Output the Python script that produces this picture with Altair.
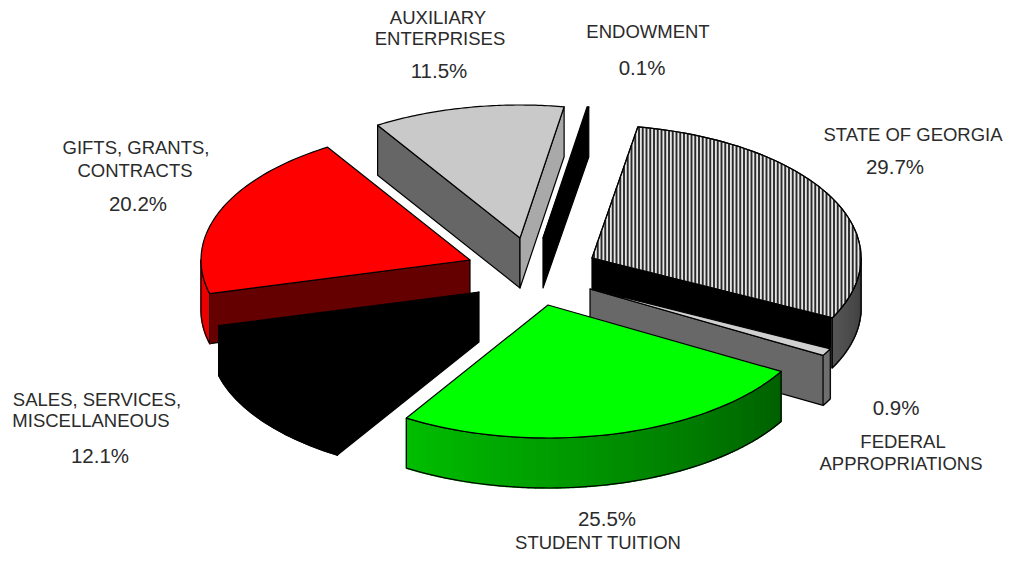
import math
import altair as alt

# ---- chart values ----
names = ["STATE OF GEORGIA", "FEDERAL APPROPRIATIONS", "STUDENT TUITION",
         "SALES, SERVICES, MISCELLANEOUS", "GIFTS, GRANTS, CONTRACTS",
         "AUXILIARY ENTERPRISES", "ENDOWMENT"]
shares = [29.7, 0.9, 25.5, 12.1, 20.2, 11.5, 0.1]

# ---- look: ellipse geometry, explosion, colours ----
START = 80.2
RX, RY, DEPTH = 269, 133, 50
MARGIN = 8
apex = {
    "STATE OF GEORGIA": (592, 258), "FEDERAL APPROPRIATIONS": (590, 289),
    "STUDENT TUITION": (548, 305), "SALES, SERVICES, MISCELLANEOUS": (479, 292),
    "GIFTS, GRANTS, CONTRACTS": (470, 260), "AUXILIARY ENTERPRISES": (520, 238),
    "ENDOWMENT": (543, 238),
}
top_fill = {
    "STATE OF GEORGIA": "#e6e6e6", "FEDERAL APPROPRIATIONS": "#d0d0d0",
    "STUDENT TUITION": "#00ff00", "SALES, SERVICES, MISCELLANEOUS": "#000000",
    "GIFTS, GRANTS, CONTRACTS": "#ff0000", "AUXILIARY ENTERPRISES": "#c9c9c9",
    "ENDOWMENT": "#000000",
}
wall_from = {
    "STATE OF GEORGIA": (60, 60, 60), "FEDERAL APPROPRIATIONS": (110, 110, 110),
    "STUDENT TUITION": (0, 95, 0), "SALES, SERVICES, MISCELLANEOUS": (0, 0, 0),
    "GIFTS, GRANTS, CONTRACTS": (235, 0, 0), "AUXILIARY ENTERPRISES": (150, 150, 150),
    "ENDOWMENT": (0, 0, 0),
}
wall_to = {
    "STATE OF GEORGIA": (85, 85, 85), "FEDERAL APPROPRIATIONS": (110, 110, 110),
    "STUDENT TUITION": (0, 190, 0), "SALES, SERVICES, MISCELLANEOUS": (0, 0, 0),
    "GIFTS, GRANTS, CONTRACTS": (235, 0, 0), "AUXILIARY ENTERPRISES": (150, 150, 150),
    "ENDOWMENT": (0, 0, 0),
}
# faces on the two cut edges
end_face = {
    "STATE OF GEORGIA": "#000000", "FEDERAL APPROPRIATIONS": "#686868",
    "AUXILIARY ENTERPRISES": "#a9a9a9", "ENDOWMENT": "#000000",
}
start_face = {
    "GIFTS, GRANTS, CONTRACTS": "#650000", "SALES, SERVICES, MISCELLANEOUS": "#000000",
    "AUXILIARY ENTERPRISES": "#666666",
}
draw_order = ["AUXILIARY ENTERPRISES", "ENDOWMENT", "GIFTS, GRANTS, CONTRACTS",
              "STATE OF GEORGIA", "SALES, SERVICES, MISCELLANEOUS",
              "FEDERAL APPROPRIATIONS", "STUDENT TUITION"]

label_lines = ["AUXILIARY", "ENTERPRISES", "ENDOWMENT", "STATE OF GEORGIA", "GIFTS, GRANTS,",
               "CONTRACTS", "SALES, SERVICES,", "MISCELLANEOUS", "FEDERAL", "APPROPRIATIONS",
               "STUDENT TUITION"]
label_x = [438, 440, 648, 913, 136, 135, 97, 91, 903, 901, 598]
label_y = [24, 45, 38, 141, 154, 177, 406, 427, 448, 470, 549]
pct_text = ["11.5%", "0.1%", "29.7%", "20.2%", "12.1%", "0.9%", "25.5%"]
pct_x = [439, 642, 895, 138, 100, 896, 607]
pct_y = [78, 75, 174, 211, 463, 415, 526]

# ---- geometry derived from the shares ----
spans = {}
a = START
for n, s in zip(names, shares):
    b = a - s * 3.6
    spans[n] = (a, b)
    a = b


def P(n, ang, drop=0):
    cx, cy = apex[n]
    r = math.radians(ang)
    return [cx + RX * math.cos(r) - MARGIN, cy - RY * math.sin(r) + drop - MARGIN]


def C(n, drop=0):
    cx, cy = apex[n]
    return [cx - MARGIN, cy + drop - MARGIN]


def arc(n, a0, a1, drop=0, steps=60):
    return [P(n, a0 + (a1 - a0) * i / steps, drop) for i in range(steps + 1)]


def feat(kind, coords, fill, stroke, sw):
    return {"type": "Feature", "properties": {},
            "geometry": {"type": kind, "coordinates": coords},
            "fill": fill, "stroke": stroke, "sw": sw}


def poly(pts, fill, stroke="#000000", sw=1.2):
    return feat("Polygon", [pts + [pts[0]]], fill, stroke, sw)


def front_range(a0, a1):
    """part of the clockwise sweep a0->a1 on the front half of the ellipse"""
    lo, hi = max(a1, -180), min(a0, 0)
    return (hi, lo) if lo < hi else None


features = []
for n in draw_order:
    a0, a1 = spans[n]
    if n in start_face:
        features.append(poly([C(n), P(n, a0), P(n, a0, DEPTH), C(n, DEPTH)], start_face[n]))
    if n in end_face:
        features.append(poly([C(n), P(n, a1), P(n, a1, DEPTH), C(n, DEPTH)], end_face[n]))
    rng = front_range(a0, a1)
    if rng:
        w0, w1 = rng
        cf, ct = wall_from[n], wall_to[n]
        facets = 60 if cf != ct else 1
        for i in range(facets):
            u0 = w0 + (w1 - w0) * i / facets
            u1 = w0 + (w1 - w0) * (i + 1) / facets
            t = (i + .5) / facets
            col = "#%02x%02x%02x" % tuple(round(cf[k] + (ct[k] - cf[k]) * t) for k in range(3))
            q = arc(n, u0, u1, 0, 12) + arc(n, u1, u0, DEPTH, 12)
            features.append(poly(q, col, col, 1.6))
        outline = arc(n, w0, w1) + arc(n, w1, w0, DEPTH)
        features.append(poly(outline, "transparent"))
    top = [C(n)] + arc(n, a0, a1)
    features.append(poly(top, top_fill[n]))
    if n == "STATE OF GEORGIA":
        cx, cy = C(n)
        t0, t1 = P(n, a0), P(n, a1)
        x = cx + 2.0
        lines = []
        while x < cx + RX - 0.5:
            dx = x - cx
            e = RY * math.sqrt(max(0, 1 - (dx / RX) ** 2))
            upper = cy - e if x >= t0[0] else cy + (t0[1] - cy) * dx / (t0[0] - cx)
            lower = cy + e if x >= t1[0] else cy + (t1[1] - cy) * dx / (t1[0] - cx)
            lines.append([[x, upper], [x, lower]])
            x += 3.75
        features.append(feat("MultiLineString", lines, "transparent", "#2a2a2a", 1.9))
        features.append(poly(top, "transparent"))

proj = dict(type="identity", scale=1, translate=[0, 0])

pie = alt.Chart(alt.Data(values=features)).mark_geoshape(strokeJoin="round").encode(
    fill=alt.Fill("fill:N", scale=None),
    stroke=alt.Stroke("stroke:N", scale=None),
    strokeWidth=alt.StrokeWidth("sw:Q", scale=None),
).project(**proj)

labels = alt.Chart(alt.Data(values=[
    {"t": t, "x": x - MARGIN, "y": y - MARGIN} for t, x, y in zip(label_lines, label_x, label_y)
])).mark_text(font="Liberation Sans", fontSize=18.5, color="#2b2b2b", baseline="alphabetic",
              align="center").encode(
    longitude="x:Q", latitude="y:Q", text="t:N").project(**proj)

pcts = alt.Chart(alt.Data(values=[
    {"t": t, "x": x - MARGIN, "y": y - MARGIN} for t, x, y in zip(pct_text, pct_x, pct_y)
])).mark_text(font="Liberation Sans", fontSize=20.5, color="#2b2b2b", baseline="alphabetic",
              align="center").encode(
    longitude="x:Q", latitude="y:Q", text="t:N").project(**proj)

chart = alt.layer(pie, labels, pcts).properties(
    width=997, height=546, padding=0
).configure_view(stroke=None)

chart.save("out.html", embed_options={"renderer": "svg", "actions": False})
